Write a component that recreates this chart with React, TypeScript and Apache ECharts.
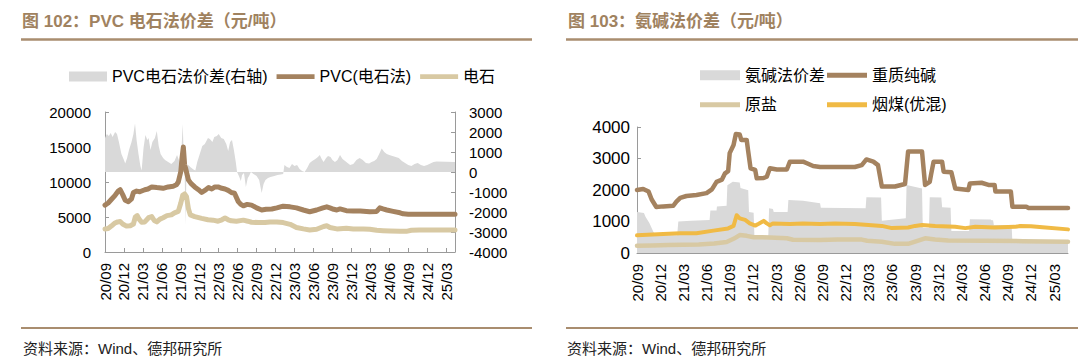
import { useEffect, useRef } from "react";
import * as echarts from "echarts";

// x values are months since 2020-09
const tickLabels = ["20/09","20/12","21/03","21/06","21/09","21/12","22/03","22/06","22/09","22/12","23/03","23/06","23/09","23/12","24/03","24/06","24/09","24/12","25/03"];

const pvcSpread: [number, number][] = [
  [0,1700],[0.3,1900],[0.6,1800],[0.9,1950],[1.2,1750],[1.6,2000],[1.9,1900],[2.2,1500],[2.6,900],[3.0,600],[3.2,430],[3.5,700],[3.8,1100],[4.2,1500],[4.5,1900],[4.75,2430],[5.0,1600],[5.3,900],[5.6,300],[5.8,80],[6.1,1200],[6.4,1850],[6.7,1600],[6.9,1700],[7.2,1100],[7.5,1500],[7.9,1700],[8.2,2050],[8.5,1300],[8.8,900],[9.2,700],[9.5,600],[10.0,500],[10.5,400],[11.0,550],[11.4,850],[11.7,600],[12.0,420],[12.3,2400],[12.45,900],[12.6,200],[12.75,-2650],[12.9,200],[13.2,350],[13.5,250],[14.0,120],[14.3,80],[14.6,500],[15.0,900],[15.4,1300],[15.8,1400],[16.3,1700],[16.6,1650],[17.0,1500],[17.3,1750],[17.7,1800],[18.0,1900],[18.4,1700],[18.8,1650],[19.2,1400],[19.5,1050],[19.8,1500],[20.1,1600],[20.4,1100],[20.7,500],[20.9,0],[21.2,-200],[21.5,-450],[21.7,-150],[22.0,-50],[22.3,-750],[22.6,-300],[22.8,-200],[23.1,0],[23.5,-100],[24.0,-200],[24.4,-400],[24.8,-1050],[25.1,-600],[25.4,-400],[25.8,-300],[26.2,-250],[26.8,-200],[27.3,-150],[27.8,-120],[28.2,-100],[28.4,350],[28.8,250],[29.2,200],[29.6,400],[30.0,300],[30.4,350],[30.8,150],[31.2,50],[31.6,0],[32.0,200],[32.4,450],[32.8,550],[33.3,650],[33.7,750],[34.0,850],[34.3,650],[34.6,500],[35.0,700],[35.3,800],[35.7,750],[36.0,600],[36.4,500],[36.8,600],[37.2,850],[37.6,650],[38.0,550],[38.4,450],[38.8,350],[39.3,400],[39.8,600],[40.3,700],[40.8,600],[41.3,450],[41.8,420],[42.2,500],[42.6,550],[43.0,650],[43.4,900],[43.8,1180],[44.2,1000],[44.6,900],[45.0,850],[45.5,800],[46.0,750],[46.5,700],[47.0,550],[47.5,450],[48.0,350],[48.5,300],[49.0,400],[49.5,450],[50.0,350],[50.5,300],[51.0,350],[51.5,420],[52.0,500],[52.5,520],[55.4,500]
];

const pvcPrice: [number, number][] = [
  [0,6700],[0.5,7000],[1.0,7500],[1.6,8100],[2.1,8700],[2.4,8900],[2.8,8200],[3.2,7400],[3.7,7200],[4.2,7600],[4.5,8500],[5.0,8700],[5.5,8600],[6.3,8900],[6.8,9000],[7.4,9300],[8.2,9200],[9.2,9100],[10.0,9300],[10.8,9400],[11.3,9600],[11.6,10000],[12.0,11500],[12.2,13500],[12.4,15000],[12.6,12500],[12.8,11800],[13.2,10300],[13.6,9800],[14.2,9300],[14.8,8900],[15.3,8500],[15.8,8800],[16.4,9200],[16.9,9000],[17.4,9300],[17.9,9300],[18.5,9100],[19.0,9000],[19.5,8800],[20.0,8500],[20.5,8400],[21.1,7200],[21.5,6800],[21.9,6600],[22.5,6800],[23.2,6700],[24.0,6300],[24.8,6000],[25.5,6100],[26.4,6150],[27.2,6300],[28.2,6550],[29.3,6450],[30.3,6300],[31.4,6000],[32.4,5750],[33.5,6000],[34.5,6300],[35.1,6450],[35.6,6300],[36.2,6100],[36.7,6000],[37.2,6150],[38.2,5900],[39.3,5850],[40.4,5850],[41.9,5750],[43.0,5800],[43.5,6300],[44.0,6150],[44.6,6000],[45.6,5800],[46.7,5600],[47.2,5450],[48.0,5400],[55.4,5400]
];

const carbidePrice: [number, number][] = [
  [0,3300],[0.5,3350],[1.0,3700],[1.5,4100],[2.0,4300],[2.4,4350],[2.8,4000],[3.4,3700],[4.0,3750],[4.5,4000],[4.8,5000],[5.1,5200],[5.4,4700],[5.8,4250],[6.3,4300],[6.9,4900],[7.4,5050],[7.8,4500],[8.2,4300],[8.7,4700],[9.2,4900],[9.8,5200],[10.5,5300],[11.0,5600],[11.6,5800],[12.0,7000],[12.3,8100],[12.6,8300],[12.9,7900],[13.2,6200],[13.5,5300],[14.2,5050],[15.3,4800],[16.3,4600],[17.1,4550],[17.9,4400],[18.5,4600],[19.0,4850],[19.5,4600],[20.0,4450],[20.8,4400],[21.9,4550],[22.6,4400],[23.2,4250],[24.3,4200],[25.3,4200],[26.1,4300],[27.2,4300],[28.2,4200],[29.3,3950],[30.3,3500],[31.4,3300],[32.4,3150],[33.5,3250],[34.6,3650],[35.1,3750],[35.6,3500],[36.7,3300],[38.2,3400],[39.3,3300],[40.9,3300],[41.9,3250],[43.0,3100],[44.0,3050],[45.1,3000],[46.7,2950],[47.7,2950],[48.5,3100],[49.8,3150],[55.4,3150]
];

const ammoniaSpread: [number, number][] = [
  [0,1300],[0.9,1270],[1.1,1150],[1.6,950],[2.1,680],[2.4,560],[5.2,560],[5.35,1000],[7,1020],[9.4,1050],[9.5,1350],[10.3,1350],[10.35,1480],[11.6,1500],[11.7,2150],[12.4,2260],[13.3,2240],[13.4,2060],[14.4,1990],[14.5,1300],[15.1,1280],[15.2,550],[17.0,550],[17.1,1420],[17.6,1400],[17.7,1300],[19.5,1300],[19.6,1680],[21.5,1660],[23.7,1580],[23.8,1440],[29.6,1420],[29.7,1770],[31.6,1760],[31.7,1020],[34.8,1100],[34.9,2160],[36.9,2050],[37.0,800],[37.8,800],[37.9,1770],[39.4,1760],[39.5,1450],[40.6,1440],[40.7,700],[43.0,700],[43.1,1070],[45.8,1060],[45.9,1040],[46.1,1040],[46.2,890],[48.5,890],[48.6,330],[55.8,330]
];

const sodaAsh: [number, number][] = [
  [0,2000],[0.8,2030],[1.5,1950],[1.9,1700],[2.5,1460],[3.4,1480],[4.7,1500],[5.1,1630],[5.6,1750],[6.4,1810],[7.7,1840],[9.0,1900],[9.7,2020],[10.3,2260],[11.0,2330],[11.4,2530],[11.8,2600],[12.0,3170],[12.5,3430],[12.8,3780],[13.3,3760],[13.5,3590],[14.2,3590],[14.4,3220],[14.7,2690],[15.3,2640],[15.5,2370],[16.4,2380],[16.8,2420],[17.2,2690],[18.1,2650],[19.4,2650],[19.8,2900],[21.5,2900],[22.0,2850],[22.8,2760],[23.7,2730],[25.6,2730],[28.2,2730],[29.1,2790],[29.7,2970],[30.6,2900],[31.2,2790],[31.7,2110],[33.4,2110],[34.7,2190],[35.1,3220],[36.9,3220],[37.3,2160],[37.9,2260],[38.1,2530],[38.4,2900],[39.5,2900],[39.7,2580],[40.7,2560],[41.2,2050],[42.9,2000],[43.1,2210],[44.6,2230],[45.5,2160],[46.3,2160],[46.4,1950],[48.4,1950],[48.6,1470],[50.4,1470],[50.7,1430],[55.8,1430]
];

const rawSalt: [number, number][] = [
  [0,230],[2,240],[4,255],[6,260],[8,270],[10,300],[11.6,350],[12.5,450],[13.3,570],[14.2,545],[15.1,500],[17.2,495],[19.4,470],[20.2,420],[23.7,415],[26,430],[29.1,425],[29.8,390],[31.7,360],[33.4,290],[35.1,290],[36,360],[37.3,465],[38.6,430],[40.3,395],[45,390],[50,375],[55.8,360]
];

const coal: [number, number][] = [
  [0,560],[3.4,600],[5.6,625],[7.7,630],[9.9,710],[11.8,780],[12.5,860],[12.9,1200],[13.3,1100],[14,1050],[14.6,940],[15.3,870],[15.7,920],[16.4,1020],[16.8,940],[17.2,880],[17.6,940],[19.8,920],[21.5,940],[23.7,920],[25.6,940],[28.2,920],[31.7,860],[33,790],[35.1,810],[36,860],[36.9,890],[38.6,860],[41.2,830],[42.5,790],[43.8,830],[46.3,810],[48.9,830],[49.6,855],[51,850],[52.5,815],[55.8,750]
];

const FONT = "'Liberation Sans', 'Noto Sans CJK SC', sans-serif";
const GRAY = "#d9d9d9";
const BROWN = "#a4825f";
const BEIGE = "#d8c9a3";
const ORANGE = "#f0ba45";
const AXIS = "#9a9a9a";
const TITLE_C = "#a0825f";
const RULE_C = "#a98d6f";
const LINE_ICON = "path://M0,0L40,0L40,5L0,5Z";

const tickValues = tickLabels.map((_, i) => i * 3);

function xAxis(gridIndex: number, max: number) {
  return {
    type: "value", gridIndex, min: 0, max, interval: 3,
    axisLine: { show: true, onZero: false, lineStyle: { color: AXIS, width: 1 } },
    axisTick: { show: true, inside: true, length: 4, customValues: tickValues, lineStyle: { color: AXIS } },
    axisLabel: {
      rotate: 90, margin: 11, fontSize: 15, color: "#000", fontFamily: FONT,
      customValues: tickValues,
      formatter: (v: number) => tickLabels[Math.round(v / 3)] ?? "",
    },
    splitLine: { show: false },
  };
}

function yAxis(gridIndex: number, min: number, max: number, interval: number, position: string, margin: number, fontSize: number) {
  return {
    type: "value", gridIndex, min, max, interval, position,
    axisLine: { show: true, onZero: false, lineStyle: { color: AXIS, width: 1 } },
    axisTick: { show: true, inside: true, length: 4, lineStyle: { color: AXIS } },
    axisLabel: { margin, fontSize, color: "#000", fontFamily: FONT, formatter: (v: number) => String(v) },
    splitLine: { show: false },
  };
}

function lineSeries(name: string, xi: number, yi: number, data: [number, number][], color: string, width: number, z: number) {
  return {
    name, type: "line", xAxisIndex: xi, yAxisIndex: yi, data, symbol: "none", showSymbol: false, z,
    itemStyle: { color },
    lineStyle: { color, width, cap: "round", join: "round" },
  };
}

function areaSeries(name: string, xi: number, yi: number, data: [number, number][]) {
  return {
    name, type: "line", xAxisIndex: xi, yAxisIndex: yi, data, symbol: "none", showSymbol: false, z: 1,
    itemStyle: { color: GRAY },
    lineStyle: { width: 0, color: GRAY },
    areaStyle: { color: GRAY, opacity: 1 },
  };
}

const legendText = { fontSize: 16, color: "#000", fontFamily: FONT, lineHeight: 16 };

export default function App() {
  const ref = useRef<HTMLDivElement>(null);
  useEffect(() => {
    document.body.style.margin = "0";
    const chart = echarts.init(ref.current!, null, { renderer: "svg" });
    chart.setOption({
      animation: false,
      color: [GRAY, BROWN, BEIGE, GRAY, BROWN, BEIGE, ORANGE],
      textStyle: { fontFamily: FONT },
      title: [
        { text: "图 102：PVC 电石法价差（元/吨）", left: 22, top: 13, padding: 0,
          textStyle: { fontSize: 17, fontWeight: "bold", color: TITLE_C, fontFamily: FONT } },
        { text: "图 103：氨碱法价差（元/吨）", left: 568, top: 13, padding: 0,
          textStyle: { fontSize: 17, fontWeight: "bold", color: TITLE_C, fontFamily: FONT } },
        { text: "资料来源：Wind、德邦研究所", left: 23, top: 341, padding: 0,
          textStyle: { fontSize: 15, fontWeight: "normal", color: "#222", fontFamily: FONT } },
        { text: "资料来源：Wind、德邦研究所", left: 567, top: 341, padding: 0,
          textStyle: { fontSize: 15, fontWeight: "normal", color: "#222", fontFamily: FONT } },
      ],
      graphic: [
        { type: "line", shape: { x1: 21, y1: 39.5, x2: 532, y2: 39.5 }, style: { stroke: RULE_C, lineWidth: 2.5 } },
        { type: "line", shape: { x1: 566, y1: 39.5, x2: 1078, y2: 39.5 }, style: { stroke: RULE_C, lineWidth: 2.5 } },
        { type: "line", shape: { x1: 21, y1: 328, x2: 532, y2: 328 }, style: { stroke: RULE_C, lineWidth: 2 } },
        { type: "line", shape: { x1: 566, y1: 328, x2: 1078, y2: 328 }, style: { stroke: RULE_C, lineWidth: 2 } },
      ],
      legend: [
        { left: 69, top: 68.5, padding: 0, itemWidth: 38, itemHeight: 10, itemGap: 9, textStyle: legendText,
          data: [
            { name: "PVC电石法价差(右轴)", icon: "rect" },
            { name: "PVC(电石法)", icon: LINE_ICON },
            { name: "电石", icon: LINE_ICON },
          ] },
        { left: 700, top: 67.3, padding: 0, orient: "vertical", itemWidth: 40, itemHeight: 10, itemGap: 13.4, textStyle: legendText,
          data: [
            { name: "氨碱法价差", icon: "rect" },
            { name: "原盐", icon: LINE_ICON },
          ] },
        { left: 827, top: 67.3, padding: 0, orient: "vertical", itemWidth: 40, itemHeight: 10, itemGap: 13.4, textStyle: legendText,
          data: [
            { name: "重质纯碱", icon: LINE_ICON },
            { name: "烟煤(优混)", icon: LINE_ICON },
          ] },
      ],
      grid: [
        { left: 105, top: 112, width: 350, height: 140 },
        { left: 637, top: 127, width: 431, height: 126 },
      ],
      xAxis: [xAxis(0, 55.4), xAxis(1, 55.8)],
      yAxis: [
        yAxis(0, 0, 20000, 5000, "left", 14, 15),
        yAxis(0, -4000, 3000, 1000, "right", 14, 15),
        yAxis(1, 0, 4000, 1000, "left", 7, 17),
      ],
      series: [
        areaSeries("PVC电石法价差(右轴)", 0, 1, pvcSpread),
        lineSeries("PVC(电石法)", 0, 0, pvcPrice, BROWN, 5, 3),
        lineSeries("电石", 0, 0, carbidePrice, BEIGE, 5, 2),
        areaSeries("氨碱法价差", 1, 2, ammoniaSpread),
        lineSeries("重质纯碱", 1, 2, sodaAsh, BROWN, 4.5, 3),
        lineSeries("原盐", 1, 2, rawSalt, BEIGE, 4.5, 2),
        lineSeries("烟煤(优混)", 1, 2, coal, ORANGE, 4, 2),
      ],
    });
    return () => chart.dispose();
  }, []);
  return <div ref={ref} style={{ width: 1080, height: 361 }} />;
}
